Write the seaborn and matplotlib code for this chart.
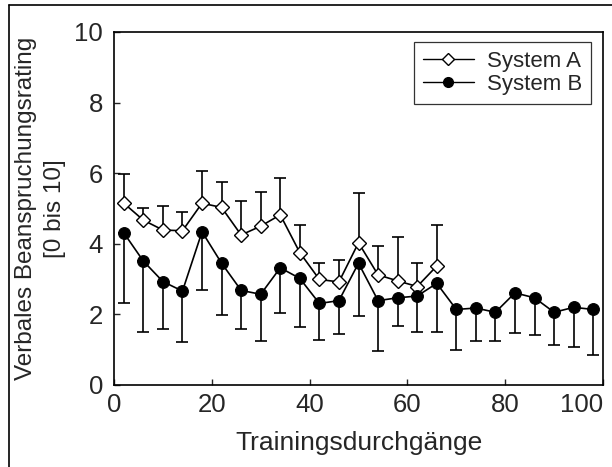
import numpy as np
import pandas as pd
import matplotlib
matplotlib.use("Agg")
import matplotlib.pyplot as plt
import seaborn as sns
from matplotlib.lines import Line2D

# System A (open diamonds), mean and upper end of error bar
x_a = [2, 6, 10, 14, 18, 22, 26, 30, 34, 38, 42, 46, 50, 54, 58, 62, 66]
mean_a = [5.15, 4.67, 4.39, 4.37, 5.15, 5.03, 4.25, 4.50, 4.82, 3.75, 2.99, 2.92,
          4.03, 3.12, 2.95, 2.79, 3.37]
upper_a = [5.98, 5.02, 5.08, 4.91, 6.06, 5.76, 5.22, 5.47, 5.87, 4.53, 3.45, 3.54,
           5.43, 3.95, 4.20, 3.47, 4.53]

# System B (filled circles), mean and lower end of error bar
x_b = [2, 6, 10, 14, 18, 22, 26, 30, 34, 38, 42, 46, 50, 54, 58, 62, 66, 70, 74,
       78, 82, 86, 90, 94, 98]
mean_b = [4.31, 3.51, 2.93, 2.66, 4.34, 3.45, 2.68, 2.57, 3.32, 3.02, 2.31, 2.39,
          3.45, 2.39, 2.47, 2.52, 2.88, 2.14, 2.18, 2.06, 2.61, 2.47, 2.06, 2.20, 2.14]
lower_b = [2.33, 1.51, 1.59, 1.21, 2.69, 1.98, 1.58, 1.25, 2.03, 1.65, 1.27, 1.44,
           1.96, 0.96, 1.68, 1.49, 1.51, 0.98, 1.26, 1.26, 1.48, 1.41, 1.13, 1.08, 0.85]

x_ticks = [0, 20, 40, 60, 80, 100]
y_ticks = [0, 2, 4, 6, 8, 10]

df_a = pd.DataFrame({"x": x_a, "y": mean_a})
df_b = pd.DataFrame({"x": x_b, "y": mean_b})

sns.set_style("ticks")
plt.rcParams["font.family"] = ["Liberation Sans", "DejaVu Sans"]

fig = plt.figure(figsize=(6.12, 4.67), dpi=100)
ax = fig.add_axes([114 / 612, 82 / 467, 489 / 612, 353 / 467])

# error bars (one-sided)
err_a = np.array(upper_a) - np.array(mean_a)
err_b = np.array(mean_b) - np.array(lower_b)
ax.errorbar(x_a, mean_a, yerr=[np.zeros_like(err_a), err_a], fmt="none",
            ecolor="black", elinewidth=1.2, capsize=4, capthick=1.2, zorder=1)
ax.errorbar(x_b, mean_b, yerr=[err_b, np.zeros_like(err_b)], fmt="none",
            ecolor="black", elinewidth=1.2, capsize=4, capthick=1.2, zorder=1)

sns.lineplot(data=df_a, x="x", y="y", ax=ax, color="black", lw=1.2,
             marker="D", markersize=7, markerfacecolor="white",
             markeredgecolor="black", markeredgewidth=1.0, zorder=3)
sns.lineplot(data=df_b, x="x", y="y", ax=ax, color="black", lw=1.2,
             marker="o", markersize=8.5, markerfacecolor="black",
             markeredgecolor="black", zorder=4)

ax.set_xlim(0, 100)
ax.set_ylim(0, 10)
ax.set_xticks(x_ticks)
ax.set_yticks(y_ticks)
ax.tick_params(direction="in", length=4, width=1, labelsize=18.5)
ax.tick_params(axis="x", pad=6)
ax.tick_params(axis="y", pad=8)
# last x label sits flush with the right spine
xlabels = ax.get_xticklabels()
xlabels[-1].set_horizontalalignment("right")
for s in ax.spines.values():
    s.set_linewidth(1.2)
    s.set_color("black")

ax.set_xlabel("Trainingsdurchgänge", fontsize=19, labelpad=10)
ax.set_ylabel("Verbales Beanspruchungsrating\n[0 bis 10]", fontsize=17.5,
              labelpad=6, linespacing=1.4)

handles = [
    Line2D([], [], color="black", lw=1.0, marker="D", markersize=6,
           markerfacecolor="white", markeredgecolor="black"),
    Line2D([], [], color="black", lw=1.0, marker="o", markersize=7,
           markerfacecolor="black", markeredgecolor="black"),
]
leg = ax.legend(handles, ["System A", "System B"], loc="upper right",
                bbox_to_anchor=(0.985, 0.985), fontsize=16, frameon=True,
                fancybox=False, edgecolor="black", handlelength=2.3,
                borderpad=0.4, labelspacing=0.1, handletextpad=0.6,
                borderaxespad=0.2)
leg.get_frame().set_linewidth(0.9)

# outer frame of the figure (left and top)
fig.add_artist(Line2D([9 / 612, 9 / 612], [0, 1 - 5 / 467], color="black",
                      lw=1.2, transform=fig.transFigure))
fig.add_artist(Line2D([9 / 612, 1], [1 - 5 / 467, 1 - 5 / 467], color="black",
                      lw=1.2, transform=fig.transFigure))

fig.savefig("out.png", dpi=100)
